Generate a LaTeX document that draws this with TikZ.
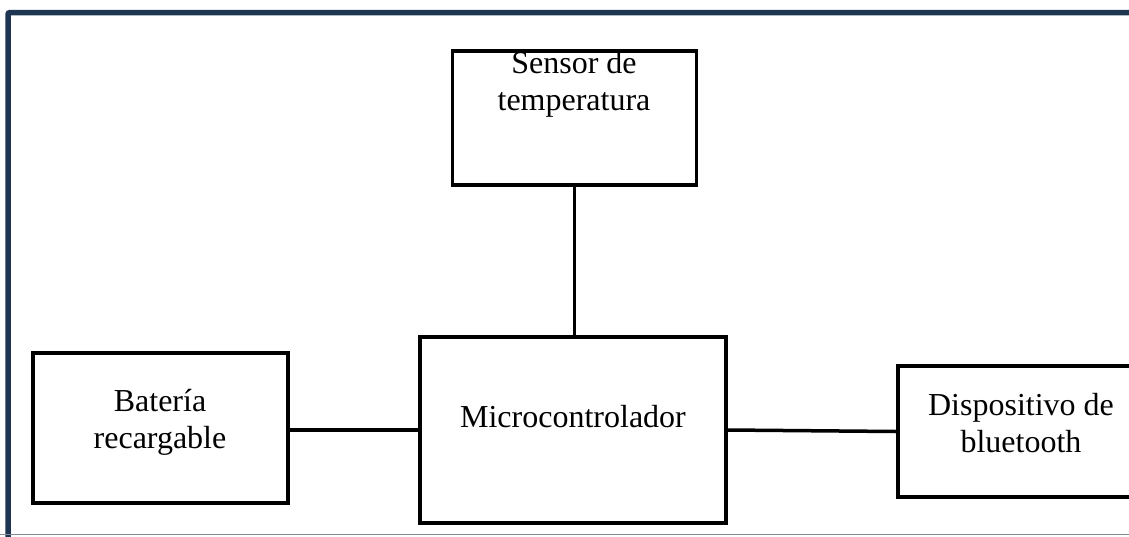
\documentclass[tikz,border=0pt]{standalone}
\usepackage{fontspec}
\setmainfont{Liberation Serif}
\usepackage{xcolor}
\usepackage{tikz}
\definecolor{marco}{RGB}{30,53,82}
\definecolor{gris}{RGB}{128,140,152}
\tikzset{
  bloque/.style = {rectangle, draw=black, line width=3.5pt, inner sep=0pt},% caja
  texto/.style = {align=center, inner sep=0pt, anchor=north,
    font=\fontsize{32}{37}\selectfont},% texto de caja
  enlace/.style = {draw=black, line width=3.5pt}% linea entre cajas
}
\begin{document}
\begin{tikzpicture}[x=1pt,y=-1pt]
\useasboundingbox (0,0) rectangle (1129,536);
\clip (0,0) rectangle (1129,536);
% marco
\draw [marco, line width=5.5pt, rounded corners=2pt] (8,545) -- (8,12.5) -- (1140,12.5);
\draw [gris, line width=1.5pt] (0,534.5) -- (1140,534.5);
% cajas
\node [bloque, minimum width=244pt, minimum height=134pt] (sensor) at (574.5,118) {};
\node [bloque, minimum width=306pt, minimum height=186pt] (micro) at (573,430) {};
\node [bloque, minimum width=255pt, minimum height=150pt] (bateria) at (160.5,428) {};
\node [bloque, minimum width=252pt, minimum height=131pt] (bt) at (1024,431.5) {};
% textos
\node [texto] (sensortxt) at (574,51) {Sensor de\\temperatura};
\node [texto, anchor=base] (microtxt) at (573,427) {Microcontrolador};
\node [texto] (bateriatxt) at (160,389) {Batería\\recargable};
\node [texto] (bttxt) at (1021,393) {Dispositivo de\\bluetooth};
% conexiones
\draw [enlace] (sensor.south) -- (sensor.south |- micro.north);
\draw [enlace] (micro.west) -- (micro.west -| bateria.east);
\draw [enlace] (micro.east) -- (bt.west);
\end{tikzpicture}
\end{document}
